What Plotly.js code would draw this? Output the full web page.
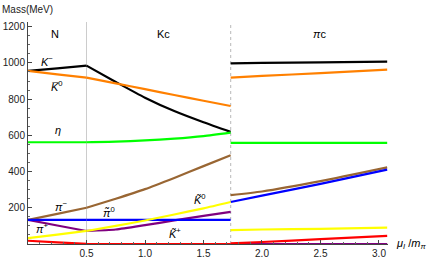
<!DOCTYPE html>
<html>
<head>
<meta charset="utf-8">
<script src="https://cdn.plot.ly/plotly-3.0.1.min.js"></script>
<style>html,body{margin:0;padding:0;background:#fff;}#chart{width:436px;height:264px;}</style>
</head>
<body>
<div id="chart"></div>
<script>
// Phase grids (mu_I / m_pi)
var muN = [0, 0.25, 0.5];
var muK = [0.5, 0.75, 1.0, 1.25, 1.5, 1.732];
var muP = [1.732, 2.0, 2.5, 3.07];
var phaseBoundaries = [0.5, 1.732];

// Masses (MeV) per phase
var kMinusN = [956, 970, 985];
var kMinusK = [985, 895, 808, 734, 672, 619];
var kMinusP = [998, 1000, 1003, 1007];

var kbar0N = [956, 937, 919];
var kbar0K = [919, 887, 855, 823, 791, 762];
var kbar0P = [919, 928, 944, 963];

var etaN = [562, 562, 562];
var etaK = [562, 565, 572, 582, 596, 615];
var etaP = [558, 558, 558, 558];

var piMinusN = [133, 166, 200];
var piMinusK = [200, 250, 303, 365, 430, 490];
var piMinusP = [270, 290, 347, 423];

var blueN = [133, 133, 133];
var blueK = [133, 133, 133, 133, 133, 133];
var blueP = [232, 267, 332, 411];

var purpleN = [133, 102, 72];
var purpleK = [72, 80, 104, 130, 155, 177];
var purpleP = [0, 0, 0, 0];

var yellowN = [32, 52, 72];
var yellowK = [72, 100, 130, 163, 197, 232];
var yellowP = [77, 80, 84, 90];

var redN = [18, 9, 1];
var redK = [0, 0, 0, 0, 0, 0];
var redP = [3, 11, 27, 45];

var xTickVals = [0.5, 1.0, 1.5, 2.0, 2.5, 3.0];
var xTickText = ["0.5", "1.0", "1.5", "2.0", "2.5", "3.0"];
var yTickVals = [200, 400, 600, 800, 1000, 1200];
var yTickText = ["200", "400", "600", "800", "1000", "1200"];

var series = [
  {c: "#000000", n: kMinusN, k: kMinusK, p: kMinusP},
  {c: "#FF8000", n: kbar0N, k: kbar0K, p: kbar0P},
  {c: "#00FF00", n: etaN, k: etaK, p: etaP},
  {c: "#996633", n: piMinusN, k: piMinusK, p: piMinusP},
  {c: "#800080", n: purpleN, k: purpleK, p: purpleP},
  {c: "#FF0000", n: redN, k: redK, p: redP},
  {c: "#0000FF", n: blueN, k: blueK, p: blueP},
  {c: "#FFFF00", n: yellowN, k: yellowK, p: yellowP}
];

var traces = [];
series.forEach(function(s){
  [[muN, s.n], [muK, s.k], [muP, s.p]].forEach(function(seg){
    traces.push({x: seg[0], y: seg[1], mode: "lines", type: "scatter",
      line: {color: s.c, width: 2.2, shape: "spline", smoothing: 0.6},
      cliponaxis: false, hoverinfo: "skip", showlegend: false});
  });
});

var fam = "Liberation Sans, Arial, DejaVu Sans, sans-serif";
var fnt = {family: fam, size: 10, color: "#222"};
function lab(x, y, t, size){
  return {x: x, y: y, xref: "x", yref: "y", text: t, showarrow: false,
    font: {family: fam, size: size || 11, color: "#000"}};
}

var layout = {
  width: 436, height: 264,
  margin: {l: 28, r: 48, t: 22, b: 20},
  paper_bgcolor: "#fff", plot_bgcolor: "#fff",
  font: fnt,
  xaxis: {range: [0, 3.077], showgrid: false, zeroline: false, showline: true,
    linecolor: "#444", linewidth: 1, ticks: "inside", ticklen: 4, tickcolor: "#444",
    tickmode: "array", tickvals: xTickVals, ticktext: xTickText, tickfont: fnt,
    minor: {dtick: 0.1, tick0: 0, ticks: "inside", ticklen: 2, tickcolor: "#666", showgrid: false}},
  yaxis: {range: [0, 1226], showgrid: false, zeroline: false, showline: true,
    linecolor: "#444", linewidth: 1, ticks: "inside", ticklen: 4, tickcolor: "#444",
    tickmode: "array", tickvals: yTickVals, ticktext: yTickText, tickfont: fnt,
    minor: {dtick: 50, tick0: 0, ticks: "inside", ticklen: 2, tickcolor: "#666", showgrid: false}},
  shapes: [
    {type: "line", xref: "x", yref: "paper", x0: phaseBoundaries[0], x1: phaseBoundaries[0], y0: 0, y1: 1,
      line: {color: "#cccccc", width: 1}, layer: "below"},
    {type: "line", xref: "x", yref: "paper", x0: phaseBoundaries[1], x1: phaseBoundaries[1], y0: 0, y1: 1,
      line: {color: "#c4c4c4", width: 1.2, dash: "dot"}, layer: "below"}
  ],
  annotations: [
    {xref: "paper", yref: "paper", x: -0.078, y: 1.058, xanchor: "left", yanchor: "middle",
      text: "Mass(MeV)", showarrow: false, font: fnt},
    {xref: "paper", yref: "paper", x: 1.018, y: 0, xanchor: "left", yanchor: "middle",
      text: "<i>μ<sub>I</sub></i> /<i>m<sub>π</sub></i>", showarrow: false,
      font: {family: fam, size: 11, color: "#000"}},
    lab(0.23, 1160, "N"),
    lab(1.16, 1160, "Kc"),
    lab(2.49, 1160, "<i>π</i>c"),
    lab(0.165, 1008, "<i>K</i><sup>−</sup>"),
    lab(0.25, 872, "<i>K\u0305</i><sup>0</sup>"),
    lab(0.26, 628, "<i>η</i>"),
    lab(0.28, 212, "<i>π</i><sup>−</sup>"),
    lab(0.12, 88, "<i>π</i><sup>+</sup>"),
    lab(0.69, 178, "<i>π\u0303</i><sup>0</sup>"),
    lab(1.47, 246, "<i>K\u0303</i><sup>0</sup>"),
    lab(1.26, 62, "<i>K\u0303</i><sup>+</sup>")
  ]
};

Plotly.newPlot("chart", traces, layout, {staticPlot: true, displayModeBar: false});
</script>
</body>
</html>
